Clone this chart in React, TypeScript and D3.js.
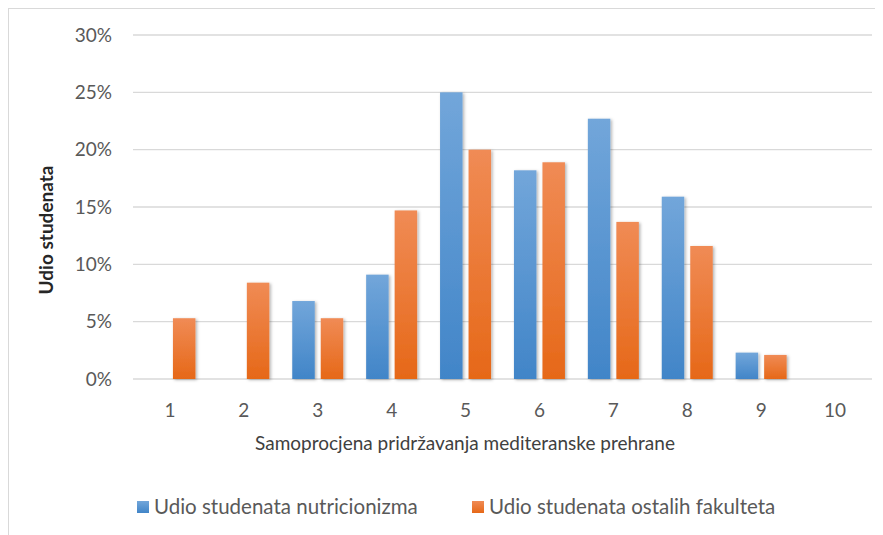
import React from 'react';
import * as d3 from 'd3';

const categories = ['1', '2', '3', '4', '5', '6', '7', '8', '9', '10'];
const nutricionizam = [0, 0, 6.8, 9.1, 25.0, 18.2, 22.7, 15.9, 2.3, 0];
const ostali = [5.3, 8.4, 5.3, 14.7, 20.0, 18.9, 13.7, 11.6, 2.1, 0];
const yTicks = [0, 5, 10, 15, 20, 25, 30];
const seriesNames = ['Udio studenata nutricionizma', 'Udio studenata ostalih fakulteta'];

const W = 875;
const H = 527;
const font = 'Lato, "Open Sans", sans-serif';

const App: React.FC = () => {
  // plot area in svg coords (svg sits at page 8,8)
  const left = 125;
  const right = 864;
  const top = 27;
  const bottom = 371;

  const x = d3.scaleBand<string>().domain(categories).range([left, right]);
  const y = d3.scaleLinear().domain([0, 30]).range([bottom, top]);
  const barW = 22.5;
  const gap = 6;

  const series = [
    { values: nutricionizam, grad: 'gBlue', off: -gap / 2 - barW },
    { values: ostali, grad: 'gOrange', off: gap / 2 },
  ];

  return (
    <svg width={W} height={H} style={{ display: 'block' }} fontFamily={font}>
      <defs>
        <linearGradient id="gBlue" x1="0" y1="0" x2="0" y2="1">
          <stop offset="0" stopColor="#72a6da" />
          <stop offset="1" stopColor="#4185c8" />
        </linearGradient>
        <linearGradient id="gOrange" x1="0" y1="0" x2="0" y2="1">
          <stop offset="0" stopColor="#f08b55" />
          <stop offset="1" stopColor="#e66818" />
        </linearGradient>
        <filter id="shadow" x="-30%" y="-10%" width="160%" height="130%">
          <feDropShadow dx="1.5" dy="1" stdDeviation="1.5" floodColor="#000" floodOpacity="0.3" />
        </filter>
      </defs>
      <rect x={0.5} y={0.5} width={W + 20} height={H + 20} fill="#fff" stroke="#d9d9d9" />

      {yTicks.map(t => (
        <g key={t}>
          <line x1={left} x2={right} y1={y(t)} y2={y(t)} stroke="#d9d9d9" strokeWidth={1.3} />
          <text x={104} y={y(t)} dy="0.35em" textAnchor="end" fontSize={19} fill="#595959">
            {t}%
          </text>
        </g>
      ))}

      {series.map((s, si) => (
        <g key={si} filter="url(#shadow)">
          {s.values.map((v, i) =>
            v > 0 ? (
              <rect
                key={i}
                x={(x(categories[i]) as number) + x.bandwidth() / 2 + s.off}
                y={y(v)}
                width={barW}
                height={y(0) - y(v)}
                fill={`url(#${s.grad})`}
              />
            ) : null
          )}
        </g>
      ))}

      {categories.map(c => (
        <text
          key={c}
          x={(x(c) as number) + x.bandwidth() / 2}
          y={402}
          dy="0.35em"
          textAnchor="middle"
          fontSize={19}
          fill="#595959"
        >
          {c}
        </text>
      ))}

      <text x={457} y={435} dy="0.35em" textAnchor="middle" fontSize={19} fill="#404040">
        Samoprocjena pridržavanja mediteranske prehrane
      </text>
      <text
        transform={`translate(38, 222) rotate(-90)`}
        dy="0.35em"
        textAnchor="middle"
        fontSize={19}
        fontWeight="bold"
        fill="#262626"
      >
        Udio studenata
      </text>

      {seriesNames.map((name, i) => {
        const lx = i === 0 ? 129 : 464;
        return (
          <g key={name}>
            <rect x={lx} y={493} width={12} height={12} fill={`url(#${i === 0 ? 'gBlue' : 'gOrange'})`} />
            <text x={lx + 17} y={499} dy="0.35em" fontSize={20.5} fill="#595959">
              {name}
            </text>
          </g>
        );
      })}
    </svg>
  );
};

export default App;
